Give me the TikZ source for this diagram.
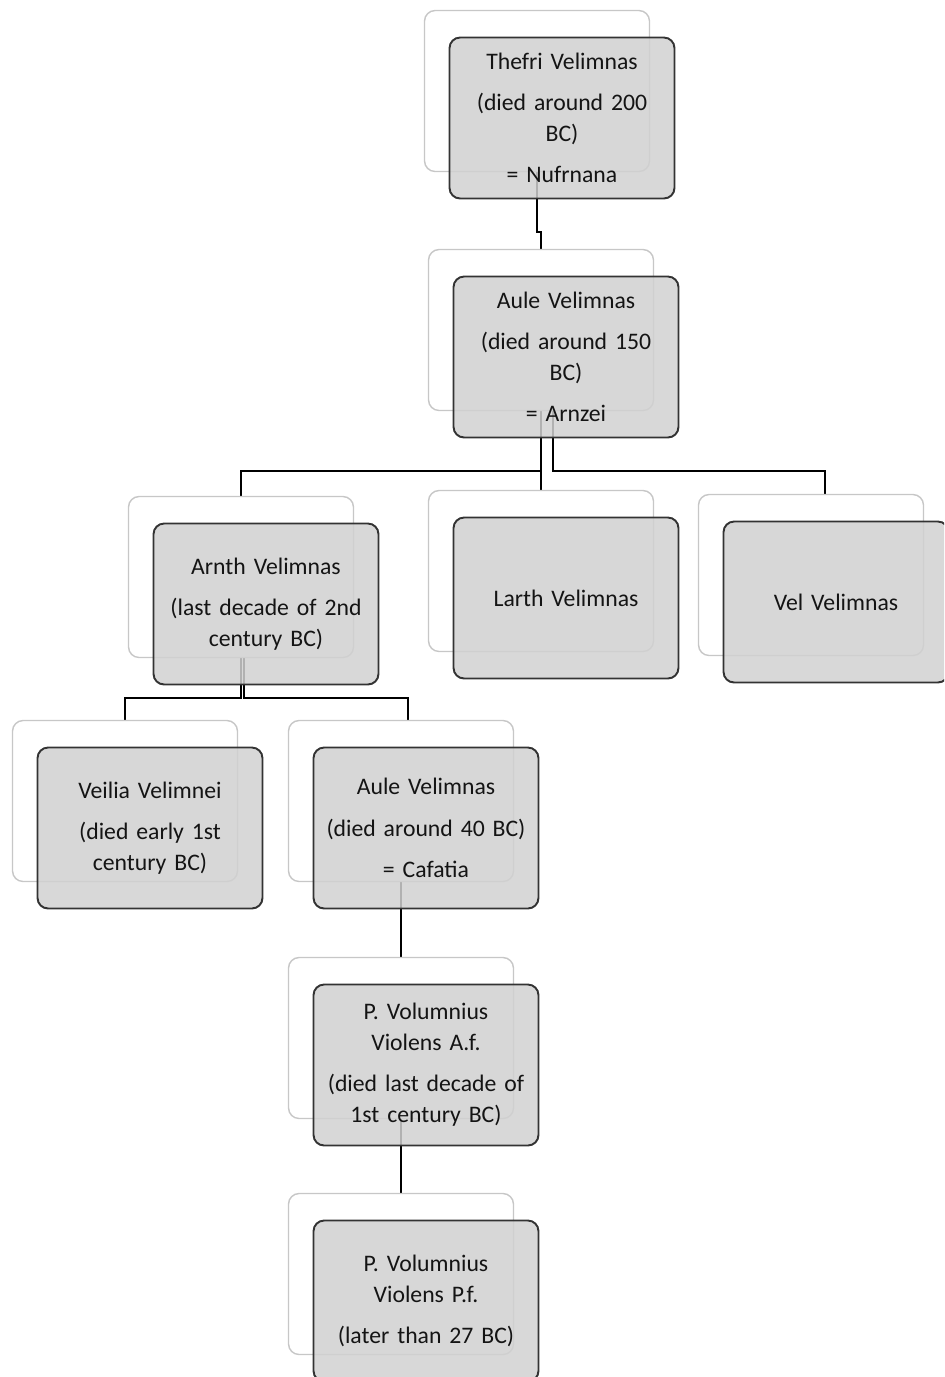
\documentclass[tikz,border=0pt]{standalone}
\usepackage{fontspec}
\setmainfont{Carlito}[WordSpace=0.85]
\usepackage{tikz}
\usetikzlibrary{backgrounds}

\begin{document}
\begin{tikzpicture}[x=0.02cm,y=-0.02cm,
  font=\fontsize{13.5}{17.5}\selectfont,
  backbox/.style={draw=black!22,fill=white,line width=0.8pt,rounded corners=6pt,
    minimum width=4.5cm,minimum height=3.22cm},
  personbox/.style={draw=black!80,line width=1.1pt,fill=black!18,fill opacity=0.85,
    text opacity=1,text=black!92,rounded corners=6pt,minimum width=4.5cm,
    minimum height=3.22cm,text width=4.1cm,align=center},
  link/.style={draw=black,line width=1.1pt}]
\newcommand{\drawperson}[4]{%
  \node[backbox] (#1-b) at (#2-25,#3-27) {};
  \node[personbox] (#1) at (#2,#3) {#4};
}
\clip[use as bounding box] (0,0) rectangle (944,1377);
\drawperson{thefri}{562}{118}{Thefri Velimnas\\[6pt](died around 200\\BC)\\[6pt]= Nufrnana}
\drawperson{aule}{566}{357}{Aule Velimnas\\[6pt](died around 150\\BC)\\[6pt]= Arnzei}
\drawperson{arnth}{266}{604}{Arnth Velimnas\\[6pt](last decade of 2nd\\century BC)}
\drawperson{larth}{566}{598}{Larth Velimnas}
\drawperson{vel}{836}{602}{Vel Velimnas}
\drawperson{veilia}{150}{828}{Veilia Velimnei\\[6pt](died early 1st\\century BC)}
\drawperson{aulep}{426}{828}{Aule Velimnas\\[6pt](died around 40 BC)\\[6pt]= Cafatia}
\drawperson{volaf}{426}{1065}{P. Volumnius\\Violens A.f.\\[6pt](died last decade of\\1st century BC)}
\drawperson{volpf}{426}{1301}{P. Volumnius\\Violens P.f.\\[6pt](later than 27 BC)}
\begin{pgfonlayer}{background}
\draw[link] (thefri-b.south) -- ++(0,60) -| (aule-b.north);
\draw[link] (aule-b.south) -- ++(0,60) -| (arnth-b.north);
\draw[link] (aule-b.south) -- ++(0,60) -| (larth-b.north);
\draw[link] ([xshift=0.24cm]aule-b.south) -- ++(0,60) -| ([xshift=0.28cm]vel-b.north);
\draw[link] (arnth-b.south) -- ++(0,40) -| (veilia-b.north);
\draw[link] ([xshift=0.06cm]arnth-b.south) -- ++(0,40) -| ([xshift=0.14cm]aulep-b.north);
\draw[link] (aulep-b.south) -- (volaf-b.north);
\draw[link] (volaf-b.south) -- (volpf-b.north);
\end{pgfonlayer}
\end{tikzpicture}
\end{document}
